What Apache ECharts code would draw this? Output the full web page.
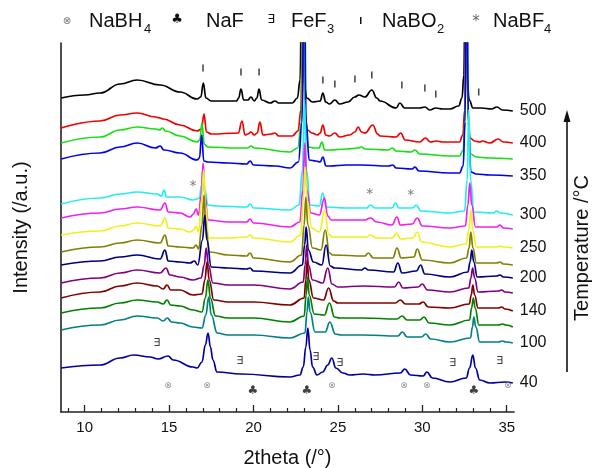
<!DOCTYPE html>
<html>
<head>
<meta charset="utf-8">
<title>XRD patterns vs temperature</title>
<script src="https://cdn.jsdelivr.net/npm/echarts@6/dist/echarts.min.js"></script>
<style>
html, body { margin: 0; padding: 0; background: #fff; }
#main { width: 592px; height: 468px; }
</style>
</head>
<body>
<div id="main"></div>
<script>
// 2theta (deg) / intensity (a.u., stacked offsets)
const curve500 = [[8.61,314],[10.0,317],[10.92,319],[12.1,328],[13.11,332],[14.47,327],[15.65,320],[16.66,313],[16.88,315],[17.03,329],[17.18,314],[17.5,311],[19.0,311],[19.12,314],[19.26,323],[19.42,312],[19.67,312],[19.85,315],[20.05,311],[20.2,314],[20.33,323],[20.48,312],[21.0,309],[21.27,311],[21.5,309],[22.3,309],[22.6,314],[22.76,332],[22.87,480],[22.98,332],[23.15,314],[23.5,310],[23.95,311],[24.11,319],[24.28,310],[24.5,308],[24.82,312],[25.1,308],[25.6,310],[26.0,315],[26.24,317],[26.6,315],[27.01,322],[27.3,314],[27.5,311],[28.45,304],[28.67,309],[28.95,304],[29.85,304],[30.15,305],[30.44,302],[30.8,304],[31.2,303],[31.63,303],[32.15,306],[32.35,314],[32.46,337],[32.55,480],[32.64,337],[32.78,312],[33.0,304],[33.5,304],[34.1,303],[34.41,305],[34.75,302],[35.36,301]];
const curve400 = [[8.61,284],[10.92,291],[12.1,297],[13.11,299],[14.2,295],[14.47,294],[14.65,293],[15.65,287],[16.66,281],[16.92,283],[17.07,298],[17.22,280],[17.5,278],[19.1,279],[19.32,291],[19.5,277],[19.67,278],[19.85,280],[20.05,277],[20.22,279],[20.38,290],[20.56,277],[21.05,278],[21.27,279],[21.5,276],[22.3,276],[22.64,281],[22.81,302],[22.92,480],[23.03,302],[23.2,282],[23.46,279],[23.8,277],[23.95,279],[24.11,287],[24.28,277],[24.5,276],[24.82,279],[25.1,275],[25.7,277],[26.01,280],[26.2,285],[26.4,280],[26.6,279],[27.07,287],[27.35,278],[27.5,276],[28.45,275],[28.72,279],[28.98,272],[29.85,270],[30.18,274],[30.48,270],[30.85,271],[31.2,270],[32.2,270],[32.4,277],[32.51,302],[32.6,480],[32.69,302],[32.83,274],[33.1,271],[33.4,270],[33.55,271],[34.0,269],[34.5,273],[34.8,270],[35.36,269]];
const curve375 = [[8.61,269],[10.92,275],[12.1,282],[13.11,285],[14.2,283],[14.45,282],[14.6,284],[14.8,281],[15.65,276],[16.66,270],[16.82,272],[16.95,289],[17.08,268],[17.3,265],[19.0,264],[19.65,264],[19.85,266],[20.05,264],[22.16,260],[22.62,264],[22.84,290],[22.95,480],[23.06,290],[23.25,265],[23.6,264],[23.88,264],[24.05,270],[24.22,262],[24.5,262],[25.5,263],[26.2,264],[26.4,265],[26.6,263],[28.0,262],[28.22,264],[28.45,261],[29.35,260],[29.56,262],[29.85,258],[31.63,256],[32.2,256],[32.42,262],[32.53,290],[32.62,480],[32.71,290],[32.86,258],[33.2,255],[34.0,254],[35.36,253]];
const curve350 = [[8.61,253],[10.92,259],[12.1,265],[13.11,269],[14.2,264],[14.47,266],[14.7,262],[15.65,259],[16.66,252],[16.8,254],[16.93,277],[17.06,251],[17.3,250],[18.5,249],[19.6,248],[19.8,251],[20.0,247],[21.3,246],[22.16,244],[22.66,250],[22.88,290],[23.0,480],[23.12,290],[23.3,252],[23.7,251],[23.95,250],[24.11,255],[24.3,246],[24.5,246],[25.5,247],[26.4,247],[28.0,246],[28.25,247],[28.45,244],[29.4,243],[29.56,245],[29.8,241],[31.63,239],[32.2,239],[32.42,246],[32.53,290],[32.63,480],[32.73,290],[32.88,240],[33.2,238],[34.0,237],[35.36,236]];
const curve300 = [[8.61,208],[10.92,214],[12.1,218],[13.11,220],[14.3,218],[14.55,216],[14.7,222],[14.85,215],[15.65,215],[16.42,212],[16.62,213],[16.8,214],[16.92,227],[17.02,244],[17.12,222],[17.3,207],[17.84,206],[19.6,205],[19.8,208],[20.0,204],[22.16,202],[22.7,207],[22.9,242],[23.02,312],[23.14,242],[23.35,207],[23.9,206],[24.1,219],[24.3,205],[25.5,204],[26.7,204],[26.93,207],[27.2,204],[28.2,204],[28.42,209],[28.6,204],[29.4,204],[29.65,207],[29.9,201],[31.63,199],[32.5,201],[32.66,232],[32.75,302],[32.86,232],[33.05,200],[34.2,199],[34.41,201],[34.6,199],[35.36,197]];
const curve275 = [[8.61,194],[10.92,199],[12.1,203],[13.11,205],[14.47,202],[14.76,209],[14.95,200],[15.65,199],[16.24,195],[16.45,198],[16.6,203],[16.75,197],[16.9,217],[17.02,249],[17.12,217],[17.31,192],[18.5,190],[19.6,190],[19.8,193],[20.0,189],[22.16,185],[22.75,190],[22.92,222],[23.04,269],[23.16,222],[23.4,199],[23.9,197],[24.2,214],[24.4,196],[24.6,192],[26.6,192],[26.93,194],[27.3,190],[28.2,187],[28.5,195],[28.7,187],[29.4,188],[29.7,194],[30.0,186],[31.63,184],[32.55,186],[32.7,207],[32.81,229],[32.93,207],[33.15,185],[34.4,185],[34.6,187],[34.8,184],[35.36,183]];
const curve250 = [[8.61,177],[10.92,181],[12.1,186],[13.11,189],[14.47,186],[14.76,194],[14.95,184],[15.65,183],[16.24,180],[16.45,182],[16.6,186],[16.75,180],[16.93,212],[17.05,242],[17.16,207],[17.35,174],[18.5,174],[19.6,175],[19.8,177],[20.0,174],[22.16,170],[22.8,177],[22.95,212],[23.06,245],[23.18,212],[23.45,184],[23.9,180],[24.22,202],[24.45,178],[24.65,175],[26.7,175],[26.93,177],[27.3,174],[28.2,174],[28.5,179],[28.7,173],[29.45,174],[29.7,180],[29.95,170],[31.63,165],[32.6,168],[32.76,182],[32.87,202],[32.99,182],[33.2,165],[34.4,165],[34.6,166],[34.8,165],[35.36,164]];
const curve225 = [[8.61,160],[10.92,165],[12.1,169],[13.11,172],[14.47,169],[14.76,177],[14.95,166],[15.65,165],[16.42,164],[16.6,167],[16.75,163],[16.95,187],[17.07,217],[17.18,184],[17.4,160],[18.5,157],[19.6,156],[19.8,159],[20.0,154],[22.16,150],[22.85,157],[23.0,187],[23.1,215],[23.22,187],[23.5,164],[24.0,162],[24.25,182],[24.5,159],[24.7,157],[26.6,156],[26.8,159],[27.1,154],[28.25,154],[28.5,164],[28.75,154],[29.5,155],[29.7,163],[30.0,152],[31.63,149],[32.62,154],[32.77,164],[32.87,180],[33.0,164],[33.2,149],[34.4,149],[34.6,150],[34.8,148],[35.36,147]];
const curve200 = [[8.61,147],[10.92,151],[12.1,155],[13.11,157],[14.47,153],[14.76,162],[14.95,151],[15.65,150],[16.24,149],[16.5,151],[16.7,147],[16.98,172],[17.12,197],[17.24,172],[17.5,145],[18.5,144],[19.6,143],[19.8,144],[20.0,141],[22.16,139],[22.9,147],[23.03,167],[23.12,185],[23.25,162],[23.55,150],[24.05,147],[24.3,167],[24.55,146],[24.8,144],[26.4,142],[26.6,144],[26.8,142],[28.3,140],[28.55,149],[28.8,139],[29.65,141],[29.9,147],[30.15,138],[31.63,135],[32.7,140],[32.83,150],[32.93,162],[33.05,150],[33.25,135],[34.4,136],[34.6,137],[34.8,135],[35.36,134]];
const curve170 = [[8.61,129],[10.92,134],[12.1,139],[13.11,142],[14.47,139],[14.82,144],[15.05,137],[15.65,135],[16.42,132],[16.9,134],[17.08,147],[17.2,164],[17.33,147],[17.6,129],[18.5,127],[20.0,127],[22.16,123],[22.95,130],[23.06,147],[23.15,167],[23.26,147],[23.5,132],[24.1,129],[24.4,144],[24.65,128],[25.0,125],[26.5,126],[28.35,125],[28.6,130],[28.85,124],[29.75,125],[30.0,128],[30.3,122],[31.63,120],[32.75,124],[32.88,134],[32.98,144],[33.1,134],[33.3,120],[34.5,121],[34.7,122],[34.9,120],[35.36,119]];
const curve140 = [[8.61,114],[10.92,120],[12.1,126],[13.11,129],[14.3,126],[14.65,123],[14.88,127],[15.1,122],[15.65,122],[16.42,117],[16.95,118],[17.12,132],[17.25,150],[17.38,132],[17.65,112],[18.5,110],[20.0,110],[22.16,107],[23.0,114],[23.1,132],[23.18,152],[23.28,132],[23.55,114],[24.15,112],[24.45,124],[24.75,111],[25.0,109],[26.5,109],[28.4,109],[28.7,112],[29.0,108],[29.8,108],[30.05,110],[30.35,105],[31.63,104],[32.78,108],[32.9,117],[32.99,127],[33.1,117],[33.3,104],[34.5,104],[34.7,105],[34.9,103],[35.36,101]];
const curve120 = [[8.61,99],[10.92,104],[12.1,109],[13.11,112],[14.3,110],[14.65,108],[14.88,112],[15.1,107],[15.65,106],[16.42,102],[16.95,100],[17.15,114],[17.3,132],[17.45,114],[17.75,96],[18.5,94],[20.0,94],[22.16,90],[23.0,96],[23.12,117],[23.2,135],[23.3,117],[23.6,98],[24.2,97],[24.5,109],[24.8,95],[25.1,94],[26.5,94],[28.5,93],[28.8,96],[29.1,92],[29.85,92],[30.1,95],[30.4,89],[31.63,87],[32.8,92],[32.92,104],[33.02,114],[33.13,104],[33.35,87],[34.5,87],[34.75,88],[34.95,87],[35.36,85]];
const curve100 = [[8.61,82],[10.92,87],[12.1,92],[13.11,96],[14.3,94],[14.65,91],[14.9,94],[15.15,90],[15.65,89],[16.42,85],[16.95,84],[17.18,97],[17.35,115],[17.5,97],[17.85,79],[18.5,77],[20.0,77],[22.16,74],[23.05,79],[23.17,100],[23.25,115],[23.35,100],[23.65,80],[24.25,80],[24.52,90],[24.85,78],[25.2,77],[26.5,77],[28.55,76],[28.82,80],[29.1,75],[29.95,75],[30.2,78],[30.5,73],[31.63,70],[32.85,74],[32.97,85],[33.05,95],[33.17,85],[33.4,70],[34.5,70],[34.75,71],[34.95,70],[35.36,69]];
const curve40 = [[8.61,44],[10.92,47],[12.1,54],[12.9,57],[13.88,55],[14.35,53],[14.94,56],[15.25,52],[16.42,45],[16.66,44],[16.95,50],[17.15,67],[17.31,79],[17.45,65],[17.6,52],[17.84,40],[19.26,38],[22.16,35],[22.75,37],[22.95,45],[23.1,65],[23.22,84],[23.35,62],[23.5,45],[23.76,37],[24.1,40],[24.4,47],[24.64,54],[24.88,44],[25.3,39],[25.7,37],[26.5,38],[27.2,37],[28.7,39],[28.96,43],[29.3,37],[30.05,36],[30.27,40],[30.6,34],[31.63,30],[32.6,34],[32.8,44],[32.99,57],[33.15,44],[33.4,32],[34.0,29],[34.9,30],[35.36,29]];

// temperature label at the end of each pattern ('' = no label)
const tempLabels = ['500', '400', '', '350', '300', '', '250', '', '200', '', '140', '', '100', '40'];

// phase markers [2theta, height]
const naBH4Marks = [[14.94,26],[17.25,26],[24.64,26],[28.91,26],[30.27,26],[35.06,26]];
const naFMarks = [[19.97,21],[23.17,21],[33.05,21]];
const feF3Marks = [[14.29,69],[19.2,51],[23.7,55],[25.12,49],[31.8,49],[34.59,51]];
const naBO2Marks = [[17.01,344],[19.26,340],[20.33,340],[24.11,332],[24.82,328],[26.01,333],[27.01,337],[28.79,327],[30.15,324],[30.8,318],[33.34,320]];
const naBF4Marks = [[16.42,226],[26.89,218],[29.32,217]];

// axis ticks
const majorTicks = [10, 15, 20, 25, 30, 35];
const minorTicks = [9, 11, 12, 13, 14, 16, 17, 18, 19, 21, 22, 23, 24, 26, 27, 28, 29, 31, 32, 33, 34];

const FONT = '"Liberation Sans", Arial, Helvetica, sans-serif';
const SYM = '"DejaVu Sans", sans-serif';
const INK = '#111';

const curves = [curve500, curve400, curve375, curve350, curve300, curve275, curve250,
  curve225, curve200, curve170, curve140, curve120, curve100, curve40];
// origin-like default palette
const lineColors = ['#000000', '#f00000', '#14e014', '#0000f0', '#22eeee', '#f020f0', '#f0f020',
  '#808000', '#000080', '#800080', '#800000', '#008000', '#008080', '#0000a0'];

const lineSeries = curves.map(function (data, i) {
  return {
    type: 'line',
    data: data,
    showSymbol: false,
    smooth: 0.45,
    smoothMonotone: 'x',
    silent: true,
    lineStyle: { color: lineColors[i], width: 1.7 },
    itemStyle: { color: lineColors[i] },
    endLabel: {
      show: tempLabels[i] !== '',
      formatter: tempLabels[i],
      distance: 7,
      color: INK,
      fontSize: 16,
      fontFamily: FONT
    }
  };
});

function markSeries(data, ch, size, color) {
  return {
    type: 'scatter',
    data: data,
    symbolSize: 1,
    silent: true,
    z: 5,
    itemStyle: { color: 'rgba(0,0,0,0)' },
    label: { show: true, position: 'inside', formatter: ch, fontSize: size, color: color, fontFamily: SYM }
  };
}

// legend row + temperature arrow, drawn as plain graphics
function legendText(x, y, txt, size, color, align, font) {
  return {
    type: 'text', x: x, y: y, silent: true,
    style: {
      text: txt, fontSize: size, fontFamily: font || FONT, fill: color || INK,
      align: align || 'left', textAlign: align || 'left',
      verticalAlign: 'middle', textVerticalAlign: 'middle'
    }
  };
}

const graphics = [
  legendText(67, 21, '⊗', 10, '#777', 'center', SYM),
  legendText(89, 21, 'NaBH', 20),
  legendText(144, 29, '4', 13),
  legendText(177, 20, '♣', 13, INK, 'center', SYM),
  legendText(206, 21, 'NaF', 20),
  legendText(271, 20, '∃', 12, INK, 'center', SYM),
  legendText(291, 21, 'FeF', 20),
  legendText(327, 29, '3', 13),
  { type: 'rect', silent: true, shape: { x: 360, y: 17, width: 1.5, height: 7 }, style: { fill: INK } },
  legendText(382, 21, 'NaBO', 20),
  legendText(437, 29, '2', 13),
  legendText(476, 22, '*', 15, '#666', 'center', SYM),
  legendText(493, 21, 'NaBF', 20),
  legendText(544, 29, '4', 13),
  // temperature arrow
  { type: 'line', silent: true, shape: { x1: 567, y1: 372, x2: 567, y2: 120 }, style: { stroke: INK, lineWidth: 1.6 } },
  { type: 'polygon', silent: true, shape: { points: [[567, 110], [563.5, 122], [570.5, 122]] }, style: { fill: INK } },
  {
    type: 'text', x: 582, y: 248, rotation: Math.PI / 2, silent: true,
    style: {
      text: 'Temperature /°C', fontSize: 20, fontFamily: FONT, fill: INK,
      align: 'center', textAlign: 'center', verticalAlign: 'middle', textVerticalAlign: 'middle'
    }
  }
];

const chart = echarts.init(document.getElementById('main'));
chart.setOption({
  animation: false,
  backgroundColor: '#fff',
  grid: { left: 61, right: 78, top: 43, bottom: 56, outerBoundsMode: 'none' },
  xAxis: [
    {
      type: 'value', min: 8.6, max: 35.43,
      name: '2theta (/°)', nameLocation: 'middle', nameGap: 36,
      nameTextStyle: { fontSize: 20, color: INK, fontFamily: FONT },
      axisLine: { lineStyle: { color: '#222', width: 1.6 } },
      axisTick: { inside: true, length: 7, customValues: majorTicks, lineStyle: { color: '#222', width: 1.3 } },
      axisLabel: { customValues: majorTicks, fontSize: 15, color: INK, margin: 8, fontFamily: FONT },
      splitLine: { show: false }
    },
    {
      // minor ticks every 1 degree
      type: 'value', min: 8.6, max: 35.43, position: 'bottom',
      axisLine: { show: false },
      axisTick: { inside: true, length: 4, customValues: minorTicks, lineStyle: { color: '#222', width: 1.2 } },
      axisLabel: { show: false },
      splitLine: { show: false }
    }
  ],
  yAxis: {
    type: 'value', min: 0, max: 369,
    name: 'Intensity (/a.u.)', nameLocation: 'middle', nameGap: 30, nameRotate: 90,
    nameTextStyle: { fontSize: 20, color: INK, fontFamily: FONT },
    axisLine: { show: true, lineStyle: { color: '#222', width: 1.6 } },
    axisTick: { show: false },
    axisLabel: { show: false },
    splitLine: { show: false }
  },
  series: lineSeries.concat([
    markSeries(naBH4Marks, '⊗', 9, '#777'),
    markSeries(naFMarks, '♣', 12, INK),
    markSeries(feF3Marks, '∃', 11, INK),
    markSeries(naBF4Marks, '*', 14, '#555'),
    {
      type: 'scatter', data: naBO2Marks, symbol: 'rect', symbolSize: [1.5, 7], silent: true, z: 5,
      itemStyle: { color: INK }
    }
  ]),
  graphic: graphics
});
</script>
</body>
</html>
